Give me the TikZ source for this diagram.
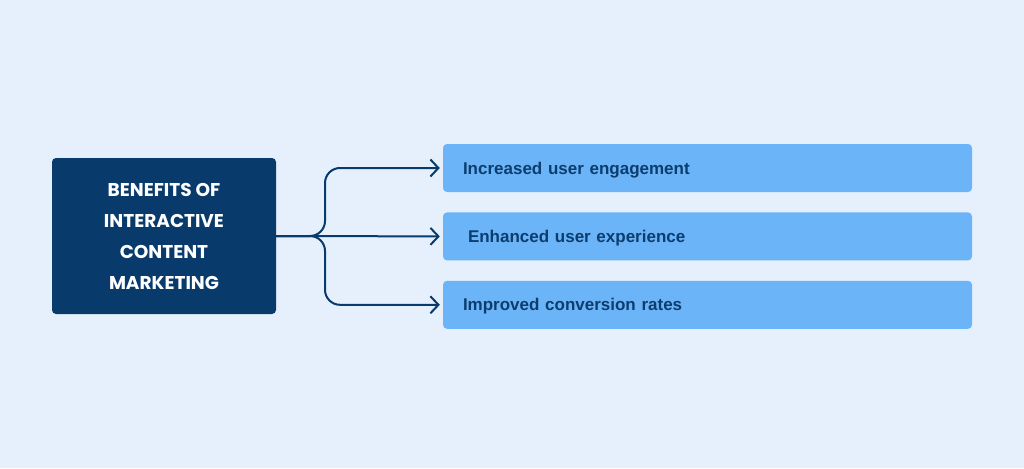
\documentclass[tikz,border=0pt]{standalone}
\usepackage{fontspec}
\setmainfont{Liberation Sans}
\newfontfamily\titlefont{Poppins}
\usetikzlibrary{positioning, arrows.meta, calc}

\definecolor{bgblue}{HTML}{E6F0FD}
\definecolor{navy}{HTML}{083A6B}
\definecolor{skyblue}{HTML}{6CB4F8}
\definecolor{inknavy}{HTML}{0B3D6E}

\begin{document}
\begin{tikzpicture}[
    x=1pt, y=-1pt,
    >={Straight Barb[length=8pt, width=17pt]},
    arrow/.style={
        ->,
        draw=navy,
        line width=2pt,
        rounded corners=15pt
    },
    title/.style={
        rectangle,
        fill=navy,
        rounded corners=4pt,
        minimum width=224pt,
        minimum height=156pt,
        align=center,
        text=white,
        font=\titlefont\bfseries\fontsize{18.5}{31}\selectfont
    },
    benefit/.style={
        rectangle,
        fill=skyblue,
        rounded corners=4pt,
        minimum width=529pt,
        minimum height=48pt,
        inner xsep=20pt,
        text=inknavy,
        text width=489pt,
        text height=13pt,
        text depth=1pt,
        align=left,
        font=\bfseries\fontsize{17}{19}\selectfont
    }
]

    % background
    \fill[bgblue] (0,0) rectangle (1024,468);
    \useasboundingbox (0,0) rectangle (1024,468);

    % --- Main block ---
    \node[title] (benefits) at (164,236) {BENEFITS OF\\INTERACTIVE\\CONTENT\\MARKETING};

    % --- Benefit boxes ---
    \node[benefit] (engage) at (707.5,168) {Increased user engagement};
    \node[benefit, below=20pt of engage, inner xsep=25pt, text width=479pt] (experience) {Enhanced user experience};
    \node[benefit, below=20pt of experience] (conversion) {Improved conversion rates};

    % Fork
    \coordinate (fork) at (325,236);

    \draw[arrow] (benefits.east) -| (fork |- engage.west) -- ([xshift=-3pt]engage.west);
    \draw[arrow] (benefits.east) -- ([xshift=-3pt]experience.west);
    \draw[arrow] (benefits.east) -| (fork |- conversion.west) -- ([xshift=-3pt]conversion.west);

\end{tikzpicture}
\end{document}
